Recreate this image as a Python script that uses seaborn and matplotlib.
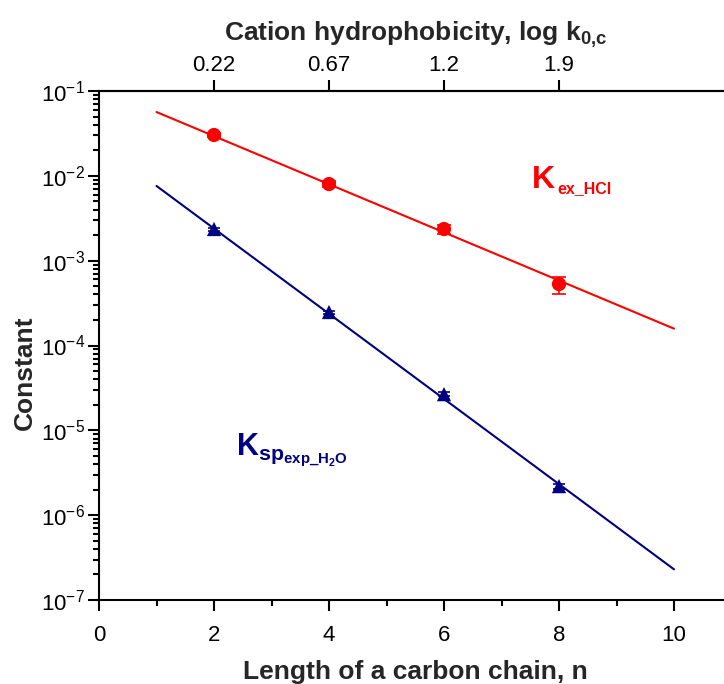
import numpy as np
import pandas as pd
import matplotlib
matplotlib.use("Agg")
import matplotlib.pyplot as plt
import seaborn as sns
from matplotlib.ticker import LogLocator, NullFormatter, FixedLocator

sns.set_theme(style="white")
plt.rcParams['font.family'] = ['Liberation Sans', 'DejaVu Sans']
plt.rcParams['mathtext.fontset'] = 'custom'
plt.rcParams['mathtext.rm'] = 'Liberation Sans'
plt.rcParams['mathtext.bf'] = 'Liberation Sans:bold'
plt.rcParams['mathtext.it'] = 'Liberation Sans:italic'

# ---- data ----
n_chain = [2, 4, 6, 8]
k_ex_hcl = [0.0303, 0.0080, 0.00236, 0.00053]
k_ex_hcl_err = [0.0015, 0.0006, 0.0003, 0.00012]
k_sp_h2o = [0.00236, 0.000248, 2.67e-5, 2.2e-6]
k_sp_h2o_err = [0.0001, 0.00001, 0.0000015, 0.00000015]
fit_n = [1, 10]
fit_ex_hcl = [0.0565, 1.58e-4]
fit_sp_h2o = [0.0076, 2.3e-7]
top_ticks = [2, 4, 6, 8]
top_labels = ["0.22", "0.67", "1.2", "1.9"]

RED = "#ff0000"
NAVY = "#000080"

pts = pd.DataFrame({"n": n_chain + n_chain,
                    "K": k_ex_hcl + k_sp_h2o,
                    "s": ["ex"] * 4 + ["sp"] * 4})
fits = pd.DataFrame({"n": fit_n + fit_n,
                     "K": fit_ex_hcl + fit_sp_h2o,
                     "s": ["ex"] * 2 + ["sp"] * 2})

fig = plt.figure(figsize=(7.24, 6.84), dpi=100)
ax = fig.add_axes([99 / 724, 1 - 600 / 684, 11 * 57.5 / 724, (600 - 91) / 684])

sns.lineplot(data=fits, x="n", y="K", hue="s", palette={"ex": RED, "sp": NAVY},
             ax=ax, legend=False, linewidth=1.5)
ax.errorbar(n_chain, k_ex_hcl, yerr=k_ex_hcl_err, fmt="none", ecolor=RED,
            elinewidth=1.2, capsize=5, capthick=1.2)
ax.errorbar(n_chain, k_sp_h2o, yerr=k_sp_h2o_err, fmt="none", ecolor=NAVY,
            elinewidth=1.2, capsize=4, capthick=1.2)
sns.scatterplot(data=pts, x="n", y="K", hue="s", style="s",
                markers={"ex": "o", "sp": "^"}, palette={"ex": RED, "sp": NAVY},
                s=105, edgecolor="none", ax=ax, legend=False, zorder=5)

ax.set_yscale("log")
ax.set_xlim(0, 11)
ax.set_ylim(1e-7, 1e-1)
ax.set_xticks([0, 2, 4, 6, 8, 10])
ax.xaxis.set_minor_locator(FixedLocator([1, 3, 5, 7, 9]))
ax.yaxis.set_major_locator(LogLocator(base=10, numticks=20))
ax.yaxis.set_minor_locator(LogLocator(base=10, subs=np.arange(2, 10), numticks=20))
ax.yaxis.set_minor_formatter(NullFormatter())

for sp in ax.spines.values():
    sp.set_color("black")
    sp.set_linewidth(1.5)
ax.spines["right"].set_visible(False)

ax.tick_params(axis="both", which="major", direction="out", length=8, width=1.5,
               labelsize=16, colors="black", pad=5)
ax.tick_params(axis="both", which="minor", direction="out", length=4, width=1.5,
               colors="black")
ax.tick_params(axis="y", which="both", left=True, right=False)
ax.tick_params(axis="y", which="major", pad=2)
ax.tick_params(axis="x", which="both", bottom=True, top=False)
ax.tick_params(axis="x", which="major", pad=10)

ax.set_xlabel("Length of a carbon chain, n", fontsize=19, fontweight="bold", labelpad=10)
ax.set_ylabel("Constant", fontsize=19, fontweight="bold")
ax.yaxis.set_label_coords(-0.098, 0.446)

ax2 = ax.twiny()
ax2.set_xlim(ax.get_xlim())
ax2.set_xticks(top_ticks)
ax2.set_xticklabels(top_labels)
ax2.tick_params(axis="x", which="major", direction="out", length=8, width=1.5,
                labelsize=16, colors="black", pad=3)
for sp in ax2.spines.values():
    sp.set_visible(False)
ax2.spines["top"].set_visible(True)
ax2.spines["top"].set_linewidth(1.5)
ax2.spines["top"].set_color("black")
ax2.set_xlabel(r"Cation hydrophobicity, log k$_{\mathbf{0{,}c}}$", fontsize=19,
               fontweight="bold", labelpad=10)

ax.text(7.53, 7.2e-3, "K", color=RED, fontsize=23, fontweight="bold",
        ha="left", va="baseline")
ax.annotate("ex_HCl", xy=(7.53, 7.2e-3), xytext=(18.5, -4), textcoords="offset points",
            color=RED, fontsize=11.5, fontweight="bold", ha="left", va="baseline")
ax.text(2.38, 5.1e-6, r"$\mathbf{K}_{\mathbf{sp}_{\mathbf{exp\_H_2O}}}$", color=NAVY,
        fontsize=22, ha="left", va="baseline")

fig.savefig("out.png", dpi=100)
